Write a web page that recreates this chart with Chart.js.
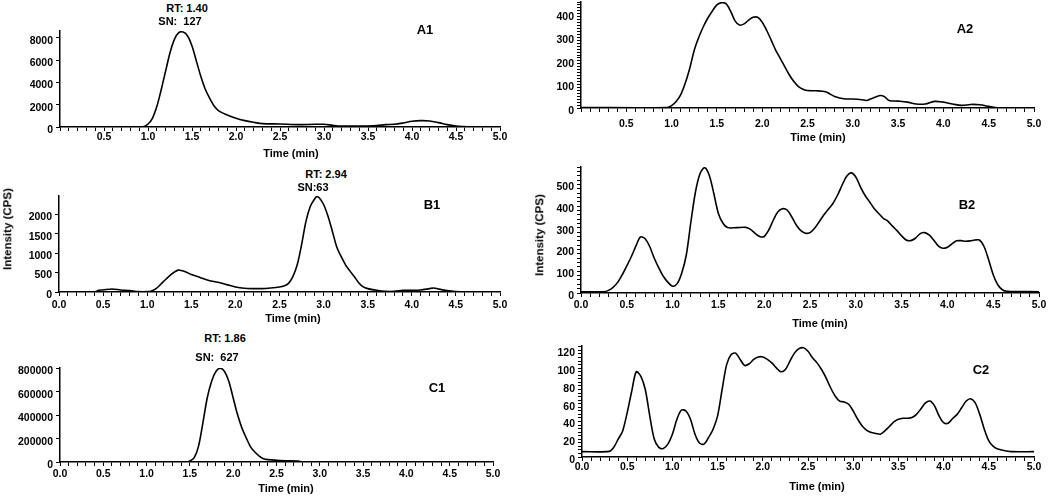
<!DOCTYPE html>
<html><head><meta charset="utf-8">
<script src="https://cdn.jsdelivr.net/npm/chart.js@4/dist/chart.umd.min.js"></script>
<style>
html,body{margin:0;padding:0;background:#fff;}
#page{position:relative;width:1050px;height:497px;overflow:hidden;background:#fff;}
canvas{position:absolute;}
.t{position:absolute;transform:translate(-50%,-50%);font-family:"Liberation Sans",Arial,Helvetica,sans-serif;font-weight:bold;color:#000;white-space:nowrap;line-height:1;}
.p{font-size:13px}.a{font-size:11px}.x{font-size:11px}
.y{font-size:11.5px;transform:translate(-50%,-50%) rotate(-90deg);}
</style></head>
<body><div id="page">
<canvas id="cA1"></canvas><canvas id="cA2"></canvas>
<canvas id="cB1"></canvas><canvas id="cB2"></canvas>
<canvas id="cC1"></canvas><canvas id="cC2"></canvas>

<div class="t a" style="left:187px;top:8px">RT: 1.40</div>
<div class="t a" style="left:180px;top:21px">SN:&nbsp; 127</div>
<div class="t a" style="left:326px;top:174px">RT: 2.94</div>
<div class="t a" style="left:313px;top:187px">SN:63</div>
<div class="t a" style="left:225px;top:338px">RT: 1.86</div>
<div class="t a" style="left:217px;top:357px">SN:&nbsp; 627</div>

<div class="t p" style="left:425px;top:29px">A1</div>
<div class="t p" style="left:965px;top:28px">A2</div>
<div class="t p" style="left:432px;top:204px">B1</div>
<div class="t p" style="left:967px;top:204px">B2</div>
<div class="t p" style="left:437px;top:387px">C1</div>
<div class="t p" style="left:981px;top:369px">C2</div>

<div class="t x" style="left:291px;top:153px">Time (min)</div>
<div class="t x" style="left:818px;top:137px">Time (min)</div>
<div class="t x" style="left:293px;top:318px">Time (min)</div>
<div class="t x" style="left:820px;top:323px">Time (min)</div>
<div class="t x" style="left:286px;top:488px">Time (min)</div>
<div class="t x" style="left:817px;top:486px">Time (min)</div>

<div class="t y" style="left:8px;top:229px">Intensity (CPS)</div>
<div class="t y" style="left:540px;top:235px">Intensity (CPS)</div>
</div>
<script>
// ---------------- data ----------------
const X_MAJOR = [0, 0.5, 1.0, 1.5, 2.0, 2.5, 3.0, 3.5, 4.0, 4.5, 5.0];

const A1_T = [0, 0.95, 1.0, 1.05, 1.1, 1.15, 1.2, 1.25, 1.3, 1.35, 1.4, 1.45, 1.5, 1.55, 1.6, 1.65, 1.7, 1.75, 1.8, 1.9, 2.0, 2.1, 2.2, 2.3, 2.5, 2.7, 2.9, 3.0, 3.1, 3.2, 3.5, 3.6, 3.7, 3.8, 3.9, 4.0, 4.1, 4.2, 4.3, 4.4, 4.5, 4.6, 4.65];
const A1_I = [0, 30, 270, 780, 1830, 3340, 5000, 6650, 7850, 8450, 8500, 8150, 7250, 5900, 4540, 3400, 2590, 1900, 1470, 1080, 780, 570, 420, 300, 270, 210, 240, 240, 150, 90, 90, 120, 210, 240, 360, 510, 570, 540, 390, 210, 90, 30, 0];
const A1_Y_LABELS = [0, 2000, 4000, 6000, 8000];

const A2_T = [0, 0.95, 1.0, 1.05, 1.1, 1.15, 1.2, 1.25, 1.3, 1.35, 1.4, 1.45, 1.5, 1.55, 1.6, 1.65, 1.7, 1.75, 1.8, 1.85, 1.9, 1.95, 2.0, 2.05, 2.1, 2.15, 2.2, 2.25, 2.3, 2.35, 2.4, 2.45, 2.5, 2.6, 2.7, 2.75, 2.8, 2.9, 3.0, 3.1, 3.15, 3.2, 3.3, 3.35, 3.4, 3.5, 3.6, 3.7, 3.8, 3.9, 4.0, 4.1, 4.2, 4.3, 4.4, 4.5, 4.6, 5.0];
const A2_I = [2, 2, 10, 28, 56, 105, 168, 245, 300, 345, 382, 412, 438, 447, 443, 412, 370, 352, 357, 373, 385, 385, 364, 329, 287, 245, 210, 175, 140, 112, 91, 80, 74, 73, 69, 59, 49, 39, 38, 35, 32, 39, 53, 48, 32, 29, 25, 17, 17, 28, 25, 17, 11, 15, 14, 7, 1, 1];
const A2_Y_LABELS = [0, 100, 200, 300, 400];

const B1_T = [0, 0.4, 0.45, 0.5, 0.6, 0.7, 0.8, 0.9, 1.0, 1.05, 1.1, 1.15, 1.2, 1.25, 1.3, 1.35, 1.4, 1.45, 1.5, 1.6, 1.7, 1.8, 1.9, 2.0, 2.1, 2.2, 2.3, 2.4, 2.5, 2.55, 2.6, 2.65, 2.7, 2.75, 2.8, 2.85, 2.9, 2.92, 2.95, 3.0, 3.05, 3.1, 3.15, 3.2, 3.25, 3.3, 3.35, 3.4, 3.45, 3.5, 3.6, 3.7, 3.8, 3.9, 4.0, 4.1, 4.2, 4.25, 4.3, 4.4, 4.5, 4.6, 5.0];
const B1_I = [0, 0, 43, 52, 78, 52, 35, 9, 9, 26, 87, 190, 303, 407, 502, 563, 545, 502, 450, 372, 294, 251, 190, 130, 95, 87, 87, 104, 130, 156, 216, 390, 693, 1212, 1818, 2208, 2398, 2450, 2424, 2251, 1948, 1558, 1152, 909, 693, 537, 390, 234, 130, 87, 43, 17, 17, 43, 43, 52, 87, 104, 78, 35, 9, 0, 0];
const B1_Y_LABELS = [0, 500, 1000, 1500, 2000];

const B2_T = [0, 0.25, 0.3, 0.35, 0.4, 0.45, 0.5, 0.55, 0.6, 0.65, 0.7, 0.75, 0.8, 0.85, 0.9, 0.95, 1.0, 1.05, 1.1, 1.15, 1.2, 1.25, 1.3, 1.35, 1.4, 1.45, 1.5, 1.55, 1.6, 1.7, 1.8, 1.85, 1.9, 1.95, 2.0, 2.05, 2.1, 2.15, 2.2, 2.25, 2.3, 2.35, 2.4, 2.45, 2.5, 2.55, 2.6, 2.65, 2.7, 2.75, 2.8, 2.85, 2.9, 2.95, 3.0, 3.05, 3.1, 3.15, 3.2, 3.25, 3.3, 3.35, 3.4, 3.45, 3.5, 3.55, 3.6, 3.65, 3.7, 3.75, 3.8, 3.85, 3.9, 3.95, 4.0, 4.05, 4.1, 4.15, 4.2, 4.25, 4.3, 4.35, 4.4, 4.45, 4.5, 4.55, 4.6, 4.65, 5.0];
const B2_I = [6, 6, 12, 26, 49, 84, 125, 168, 217, 258, 250, 214, 160, 115, 76, 49, 31, 43, 92, 176, 328, 466, 550, 577, 542, 458, 366, 321, 301, 301, 302, 293, 275, 260, 260, 290, 336, 374, 388, 382, 351, 313, 287, 275, 278, 298, 328, 359, 385, 412, 450, 496, 537, 553, 534, 489, 450, 420, 389, 366, 344, 331, 308, 287, 263, 244, 241, 252, 272, 278, 267, 244, 217, 206, 211, 226, 240, 241, 238, 240, 244, 244, 214, 153, 84, 38, 15, 8, 6];
const B2_Y_LABELS = [0, 100, 200, 300, 400, 500];

const C1_T = [0, 1.45, 1.5, 1.55, 1.6, 1.65, 1.7, 1.75, 1.8, 1.85, 1.9, 1.95, 2.0, 2.05, 2.1, 2.15, 2.2, 2.25, 2.3, 2.35, 2.4, 2.5, 2.6, 2.75, 2.8, 5.0];
const C1_I = [0, 0, 8500, 37000, 136000, 335000, 548000, 690000, 775000, 803000, 775000, 690000, 548000, 406000, 292000, 207000, 130000, 85000, 51000, 28000, 20000, 14000, 11000, 8500, 0, 0];
const C1_Y_LABELS = [0, 200000, 400000, 600000, 800000];

const C2_T = [0, 0.3, 0.35, 0.4, 0.45, 0.5, 0.55, 0.6, 0.65, 0.7, 0.75, 0.8, 0.85, 0.9, 0.95, 1.0, 1.05, 1.1, 1.15, 1.2, 1.25, 1.3, 1.35, 1.4, 1.45, 1.5, 1.55, 1.6, 1.65, 1.7, 1.75, 1.8, 1.85, 1.9, 1.95, 2.0, 2.05, 2.1, 2.15, 2.2, 2.25, 2.3, 2.35, 2.4, 2.45, 2.5, 2.55, 2.6, 2.65, 2.7, 2.75, 2.8, 2.85, 2.9, 2.95, 3.0, 3.05, 3.1, 3.15, 3.2, 3.25, 3.3, 3.35, 3.4, 3.45, 3.5, 3.55, 3.6, 3.65, 3.7, 3.75, 3.8, 3.85, 3.9, 3.95, 4.0, 4.05, 4.1, 4.15, 4.2, 4.25, 4.3, 4.35, 4.4, 4.45, 4.5, 4.55, 4.6, 4.7, 4.75, 5.0];
const C2_I = [6, 6.3, 10.8, 20, 29.4, 50, 74, 96, 91, 76, 46, 20, 10.8, 9.7, 14.5, 25.7, 42.5, 52.9, 51.8, 42.5, 25.7, 15.7, 14.5, 22, 31.3, 46.3, 76, 104, 115.3, 117, 109.7, 103, 105, 110, 112.7, 112.7, 110, 106, 100.4, 96, 98.5, 108, 117, 122, 123, 119, 111.8, 106, 98.5, 89, 78, 68.7, 63, 62, 59.4, 51.8, 42.5, 35, 30, 27.5, 26.5, 25.7, 29.4, 34.3, 39.5, 42.5, 43.6, 43.6, 44.4, 48, 54.4, 61, 63, 57.5, 46.3, 38.8, 38, 43.3, 48, 55.5, 63, 65.6, 61, 48, 31.3, 18.2, 11.9, 8.9, 6.7, 6, 6];
const C2_Y_LABELS = [0, 20, 40, 60, 80, 100, 120];

// ---------------- rendering ----------------
const FONT = '"Liberation Sans", Arial, Helvetica, sans-serif';
function stepList(max, step) {
  const a = [];
  for (let i = 0; i * step <= max + 1e-9; i++) a.push(Math.round(i * step * 1000) / 1000);
  return a;
}
const X_TICKS = stepList(5, 0.1);
const near = (arr, v) => arr.find(l => Math.abs(l - v) < 1e-6);

const PANELS = [
  {id:'cA1', t:A1_T, v:A1_I, l:60,  r:500,  top:31,  b:127, ymax:8600,   yLab:A1_Y_LABELS, yStep:2000,   zero:false, xPad:0},
  {id:'cA2', t:A2_T, v:A2_I, l:581, r:1034, top:2,   b:108, ymax:450,    yLab:A2_Y_LABELS, yStep:12.5,   zero:false, xPad:6},
  {id:'cB1', t:B1_T, v:B1_I, l:59,  r:500,  top:196, b:292, ymax:2470,   yLab:B1_Y_LABELS, yStep:500,    zero:true,  xPad:3},
  {id:'cB2', t:B2_T, v:B2_I, l:581, r:1039, top:167, b:293, ymax:580,    yLab:B2_Y_LABELS, yStep:20,     zero:true,  xPad:2},
  {id:'cC1', t:C1_T, v:C1_I, l:60,  r:493,  top:368, b:462, ymax:805000, yLab:C1_Y_LABELS, yStep:200000, zero:true,  xPad:2},
  {id:'cC2', t:C2_T, v:C2_I, l:582, r:1034, top:346, b:457, ymax:125,    yLab:C2_Y_LABELS, yStep:4,      zero:true,  xPad:0}
];

const PL = 62, PT = 12, PR = 25, XH = 32;
PANELS.forEach(p => {
  const cv = document.getElementById(p.id);
  const W = p.r - p.l + PL + PR, H = p.b - p.top + PT + XH;
  cv.width = W; cv.height = H;
  cv.style.width = W + 'px'; cv.style.height = H + 'px';
  cv.style.left = (p.l - PL) + 'px'; cv.style.top = (p.top - PT) + 'px';
  const yTicks = stepList(p.ymax, p.yStep);
  const tickFont = {family: FONT, size: 10.5, weight: 'bold'};
  new Chart(cv, {
    type: 'line',
    data: {datasets: [{
      data: p.t.map((x, i) => ({x: x, y: p.v[i]})),
      borderColor: '#000', borderWidth: 1.6, pointRadius: 0, fill: false,
      tension: 0.3
    }]},
    options: {
      responsive: false, animation: false, devicePixelRatio: 1, events: [],
      layout: {padding: {left: 0, top: PT, right: PR, bottom: 0}},
      plugins: {legend: {display: false}, tooltip: {enabled: false}},
      scales: {
        x: {
          type: 'linear', min: 0, max: 5,
          afterFit: s => { s.height = XH; },
          afterBuildTicks: s => { s.ticks = X_TICKS.map(v => ({value: v})); },
          ticks: {
            autoSkip: false, maxRotation: 0, minRotation: 0, padding: p.xPad,
            color: '#000', font: tickFont,
            callback: v => {
              const m = near(X_MAJOR, v);
              if (m === undefined) return '';
              if (m === 0 && !p.zero) return '';
              return m.toFixed(1);
            }
          },
          grid: {drawOnChartArea: false, drawTicks: true, tickLength: 4, tickColor: '#000', tickWidth: 1},
          border: {display: true, color: '#000', width: 1.5}
        },
        y: {
          type: 'linear', min: 0, max: p.ymax,
          afterFit: s => { s.width = PL; },
          afterBuildTicks: s => { s.ticks = yTicks.map(v => ({value: v})); },
          ticks: {
            autoSkip: false, padding: 3, labelOffset: 3,
            color: '#000', font: {family: FONT, size: 10.5, weight: 'bold'},
            callback: v => { const m = near(p.yLab, v); return m === undefined ? '' : String(m); }
          },
          grid: {drawOnChartArea: false, drawTicks: true, tickLength: 4, tickColor: '#000', tickWidth: 1},
          border: {display: true, color: '#000', width: 1.5}
        }
      }
    }
  });
});
</script>
</body></html>
